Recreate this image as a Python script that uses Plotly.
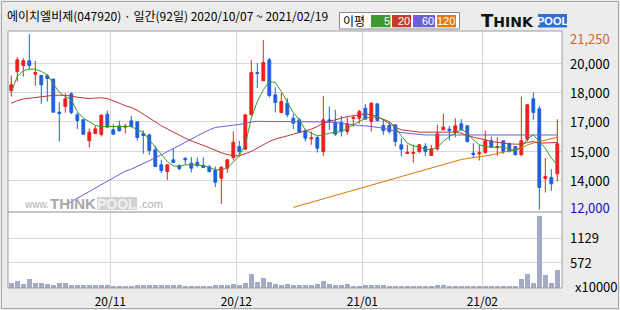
import plotly.graph_objects as go

# ---------------- data ----------------
title_text = "에이치엘비제(047920) · 일간(92일) 2020/10/07 ~ 2021/02/19"

opens = [18258, 19278, 19595, 19841, 19137, 19067, 19050, 18874, 17133, 17432,
         18100, 16993, 16729, 15621, 16008, 15956, 17028, 16202, 16413, 16342,
         16676, 16624, 15991, 15938, 15147, 14356, 14004, 14619, 14321, 14707,
         14444, 14496, 14321, 14250, 14057, 13652, 14180, 14742, 15323, 15182,
         16993, 19225, 18786, 19893, 18047, 17116, 17608, 16817, 16729, 16149,
         15727, 15797, 15059, 16729, 16606, 16606, 16114, 16799, 16817, 17344,
         16641, 17573, 16430, 16430, 16465, 15411, 14954, 14954, 15059, 15323,
         14848, 15200, 16202, 16237, 16079, 16518, 16413, 14971, 14936, 15006,
         15621, 15270, 15621, 15463, 15323, 14883, 15709, 17837, 17309, 13635,
         13688, 13881]
highs = [19067, 20034, 19981, 21250, 19841, 19102, 19137, 18909, 17661, 18135,
         18188, 17116, 16764, 16272, 16430, 17010, 17204, 16500, 16676, 16518,
         16940, 16641, 16166, 15973, 15358, 14619, 14373, 15235, 14373, 14742,
         14760, 14742, 14742, 14356, 14268, 14268, 14654, 16114, 15621, 16993,
         19893, 19717, 20948, 19999, 18452, 18135, 17872, 17046, 16817, 16237,
         16114, 15885, 17995, 17432, 17257, 16940, 16870, 16993, 17257, 17573,
         17643, 17573, 16764, 16641, 16465, 15762, 15411, 15411, 15446, 15499,
         15411, 16465, 17046, 16413, 16817, 16764, 16430, 15499, 15411, 16149,
         15850, 15815, 15621, 15534, 15323, 17960, 17555, 18170, 17467, 14707,
         14127, 16764]
lows = [17960, 18751, 19014, 19401, 18522, 17573, 17696, 17116, 15586, 17098,
        17028, 16237, 15938, 15270, 16008, 15850, 16325, 15938, 16114, 16008,
        16325, 15639, 14936, 14883, 14233, 13916, 13565, 14444, 14057, 14356,
        13951, 14233, 14180, 13951, 13178, 12299, 13951, 14584, 14795, 15147,
        16975, 18399, 18786, 17907, 17116, 17081, 16870, 16237, 16061, 15586,
        15411, 15006, 14830, 16202, 15885, 15850, 15938, 16377, 16518, 16729,
        16114, 16641, 15938, 15991, 15323, 14795, 14936, 14479, 14971, 14830,
        14830, 15112, 16202, 15639, 15815, 16166, 15534, 14707, 14584, 14936,
        15235, 14830, 14936, 15006, 14883, 14830, 15586, 16729, 12000, 12897,
        12985, 13477]
closes = [18575, 19893, 19841, 19595, 19225, 18575, 18909, 17133, 17063, 17837,
          17116, 16694, 15973, 16079, 16254, 16975, 16342, 15973, 16149, 16395,
          16377, 15797, 15903, 15112, 14268, 14057, 14356, 14479, 14162, 14619,
          14180, 14321, 14215, 14004, 13442, 14233, 14619, 15551, 15059, 16993,
          19225, 19173, 19753, 18012, 17643, 17696, 16993, 16553, 16079, 15762,
          15780, 15235, 16729, 16641, 15973, 16114, 16518, 16852, 17169, 16764,
          17608, 16694, 16166, 16114, 15586, 15182, 15024, 15006, 15411, 15059,
          15200, 15991, 16342, 16166, 16413, 16202, 15586, 14901, 14989, 15621,
          15288, 15323, 15059, 15059, 14883, 15621, 17520, 17116, 13160, 13740,
          13354, 15463]
# volume in units of 10,000 shares
volume = [104, 156, 85, 200, 112, 112, 82, 63, 115, 115,
          67, 67, 60, 60, 60, 60, 60, 45, 40, 40,
          40, 60, 60, 60, 60, 75, 60, 60, 60, 52,
          52, 52, 52, 52, 60, 60, 60, 100, 60, 110,
          308, 133, 217, 130, 80, 64, 80, 58, 58, 60,
          65, 85, 163, 93, 74, 74, 90, 50, 50, 60,
          74, 74, 62, 55, 50, 50, 35, 48, 38, 48,
          55, 74, 70, 55, 48, 48, 48, 50, 48, 50,
          50, 50, 50, 38, 38, 204, 315, 118, 1623, 290,
          118, 400]

ma5 = [18213, 19014, 19331, 19401, 19401, 19278, 19102, 18663, 18170, 17960,
       17784, 17168, 16817, 16641, 16430, 16377, 16377, 16377, 16377, 16413,
       16377, 16202, 16061, 15674, 15287, 14883, 14532, 14303, 14268, 14356,
       14356, 14356, 14303, 14233, 14092, 14092, 14180, 14479, 14830, 15411,
       16817, 17696, 18311, 18751, 18698, 18223, 17696, 17116, 16729, 16202,
       16026, 15885, 15938, 16026, 16061, 16114, 16290, 16465, 16641, 16817,
       16870, 16870, 16764, 16641, 16342, 15885, 15498, 15358, 15287, 15182,
       15147, 15287, 15586, 15850, 16026, 16237, 16026, 15674, 15411, 15323,
       15288, 15288, 15288, 15182, 15112, 15288, 15709, 15938, 15586, 15235,
       14707, 14356]
ma20 = [17600, 17740, 17830, 17872, 17890, 17960, 18000, 18020, 18030, 18010,
        17990, 17920, 17870, 17850, 17880, 17890, 17850, 17749, 17608, 17467,
        17380, 17230, 17020, 16800, 16600, 16420, 16250, 16080, 15920, 15760,
        15620, 15480, 15380, 15260, 15120, 14990, 14900, 14840, 14830, 14936,
        15059, 15235, 15411, 15586, 15709, 15815, 15885, 15973, 16061, 16149,
        16237, 16377, 16553, 16641, 16729, 16817, 16905, 16940, 16993, 17046,
        16993, 16905, 16729, 16518, 16342, 16202, 16149, 16114, 16079, 16079,
        16079, 16079, 16079, 16079, 16079, 16026, 15885, 15815, 15762, 15674,
        15586, 15534, 15498, 15463, 15446, 15446, 15534, 15586, 15498, 15498,
        15498, 15534]
ma60 = [None] * 9 + [
        12237, 12414, 12591, 12768, 12945, 13122, 13299, 13476, 13653, 13830,
        14022, 14127, 14268, 14408, 14567, 14725, 14883, 15041, 15200, 15358,
        15534, 15709, 15885, 16061, 16202, 16325, 16377, 16430, 16448, 16483,
        16562, 16615, 16650, 16650, 16650, 16650, 16650, 16650, 16650, 16650,
        16615, 16615, 16615, 16615, 16615, 16580, 16540, 16480, 16450, 16430,
        16413, 16377, 16325, 16290, 16202, 16114, 16061, 16026, 15991, 15938,
        15930, 15930, 15930, 15930, 15930, 15930, 15930, 15930, 15930, 15930,
        15930, 15930, 15930, 15930, 15930, 15930, 15930, 15930, 15930, 15930,
        15930, 15930, 15930]
ma120 = [None] * 47 + [
         12111, 12200, 12285, 12374, 12459, 12548, 12633, 12723, 12807, 12897,
         12986, 13081, 13176, 13266, 13361, 13456, 13551, 13640, 13735, 13830,
         13920, 14009, 14099, 14189, 14278, 14368, 14458, 14547, 14637, 14690,
         14727, 14769, 14822, 14874, 14964, 15016, 15069, 15138, 15244, 15402,
         15507, 15576, 15665, 15734, 15808]

month_first_idx = [17, 38, 59, 79]
month_labels = ["20/11", "20/12", "21/01", "21/02"]
price_min, price_max = 12000, 21250
price_grid_labels = ["14,000", "15,000", "17,000", "18,000", "20,000"]
vol_grid_vals = [572, 1129]
vol_unit = "x10000"
ma_names = ["5", "20", "60", "120"]

# ---------------- styling ----------------
W, H = 620, 310
ML, MR, MT, MB = 8, 58, 31, 22
PW, PH = W - ML - MR, H - MT - MB
FONT = "Noto Sans CJK KR"
UP, DOWN = "#f01e1e", "#1f5fe0"
MA_COLORS = ["#3a9a22", "#c03434", "#6a5fe0", "#e07400"]
LEG_COLORS = ["#3d9a2f", "#c83a2e", "#6b62d8", "#e07a10"]
GRID = "#d7d7d7"


def px(x):
    return (x - ML) / PW


def py(y):
    return (H - MB - y) / PH


split = py(212)
n = len(closes)
idx = list(range(n))

# price axis: 12000 sits 2.5px above the panel bottom, 21250 3px below its top
ppx = (price_max - price_min) / 175.4
p_lo = price_min - 2.5 * ppx
p_hi = p_lo + 181 * ppx
step = (price_max - price_min) / 6
price_grid_vals = [price_min + k * step for k in range(1, 6)]
v_hi = 1716

fig = go.Figure()
fig.add_trace(go.Bar(x=idx, y=volume, yaxis="y2", width=0.8,
                     marker=dict(color="#a3abc5", line=dict(width=0)),
                     hoverinfo="skip"))
for vals, col in zip([ma120, ma60, ma20, ma5], MA_COLORS[::-1]):
    fig.add_trace(go.Scatter(x=idx, y=vals, mode="lines", yaxis="y",
                             line=dict(color=col, width=1), hoverinfo="skip"))
fig.add_trace(go.Candlestick(x=idx, open=opens, high=highs, low=lows, close=closes,
                             yaxis="y", whiskerwidth=0,
                             increasing=dict(line=dict(color=UP, width=1), fillcolor=UP),
                             decreasing=dict(line=dict(color=DOWN, width=1), fillcolor=DOWN)))

shapes = [
    dict(type="rect", xref="paper", yref="paper", x0=px(1.5), x1=px(618.5),
         y0=py(308.5), y1=py(1.5), line=dict(color="#a6a6a6", width=1), layer="below"),
    dict(type="rect", xref="paper", yref="paper", x0=0, x1=1, y0=0, y1=1,
         line=dict(color="#9c9c9c", width=1)),
    dict(type="line", xref="paper", yref="paper", x0=0, x1=1, y0=split, y1=split,
         line=dict(color="#8c8c8c", width=1)),
    # legend box
    dict(type="rect", xref="paper", yref="paper", x0=px(339.5), x1=px(459.5),
         y0=py(29), y1=py(12.5), fillcolor="#ffffff", line=dict(color="#8a8a8a", width=1)),
    # logo blue box
    dict(type="rect", xref="paper", yref="paper", x0=px(538), x1=px(567),
         y0=py(27.5), y1=py(14), fillcolor="#2f6fd8", line=dict(width=0)),
    # watermark grey box
    dict(type="rect", xref="paper", yref="paper", x0=px(97), x1=px(137),
         y0=py(210), y1=py(197), fillcolor="#d2d2d2", line=dict(width=0), layer="below"),
]
box_x = [(371, 390.5), (392, 411), (413, 435), (437, 456)]
for (a, b), c in zip(box_x, LEG_COLORS):
    shapes.append(dict(type="rect", xref="paper", yref="paper", x0=px(a), x1=px(b),
                       y0=py(27.3), y1=py(15), fillcolor=c, line=dict(width=0)))

ann = []


def A(text, x, y, size=12, color="#000", xanchor="left", family=FONT, yref="paper"):
    ann.append(dict(text=text, x=x, y=y, xref="paper", yref=yref, showarrow=False,
                    xanchor=xanchor, yanchor="middle", borderpad=0,
                    font=dict(family=family, size=size, color=color)))


A(title_text, px(6), py(15.5), size=12)
A("이평", px(354), py(20.5), size=12, xanchor="center")
for (a, b), t in zip(box_x, ma_names):
    A(t, px(b), py(21), size=11, color="#ffffff", xanchor="right",
      family="Liberation Sans")
A('<b><span style="font-size:18px">T</span>HINK</b>', px(480), py(21), size=14,
  family="DejaVu Sans", color="#111111")
A("<b>POOL</b>", px(552.5), py(21), size=11, family="Liberation Sans",
  color="#ffffff", xanchor="center")
# watermark
A("www.", px(23), py(204), size=10, family="Liberation Sans", color="#b0b0b0")
A("<b>THINK</b>", px(49), py(203), size=15, family="Liberation Sans", color="#a8a8a8")
A("<b>POOL</b>", px(117), py(203.5), size=14, family="Liberation Sans", color="#f0f0f0",
  xanchor="center")
A(".com", px(138), py(204), size=11, family="Liberation Sans", color="#b0b0b0")
# right axis labels
lab_x = px(569)
for v, t in zip(price_grid_vals, price_grid_labels):
    A(t, lab_x, v, size=13, yref="y")
A(f"{price_max:,}", lab_x, py(38), size=13, color="#d2691e")
A(f"{price_min:,}", lab_x, py(207), size=13, color="#1010c8")
for v in vol_grid_vals:
    A(str(v), lab_x, v, size=13, yref="y2")
A(vol_unit, px(574), py(286), size=13)

fig.update_layout(
    width=W, height=H, margin=dict(l=ML, r=MR, t=MT, b=MB, pad=0, autoexpand=False),
    paper_bgcolor="#ececec", plot_bgcolor="#ffffff", showlegend=False,
    boxgap=0.33, bargap=0, hovermode=False,
    font=dict(family=FONT, size=12, color="#000"),
    xaxis=dict(range=[-0.55, n - 0.22], anchor="y2", automargin=False,
               tickvals=[i - 0.5 for i in month_first_idx], ticktext=month_labels,
               showgrid=True, gridcolor=GRID, gridwidth=1, zeroline=False,
               showline=False, ticks="outside", ticklen=3, tickcolor="rgba(0,0,0,0)",
               tickfont=dict(size=12, color="#000", family=FONT),
               rangeslider=dict(visible=False), fixedrange=True),
    yaxis=dict(domain=[split, 1], range=[p_lo, p_hi], anchor="x", automargin=False,
               tickvals=price_grid_vals, showticklabels=False, gridcolor=GRID,
               zeroline=False, showline=False, fixedrange=True),
    yaxis2=dict(domain=[0, split], range=[0, v_hi], anchor="x", automargin=False,
                tickvals=vol_grid_vals, showticklabels=False, gridcolor=GRID,
                zeroline=False, showline=False, fixedrange=True),
    shapes=shapes, annotations=ann,
)

fig.write_html("out.html")
